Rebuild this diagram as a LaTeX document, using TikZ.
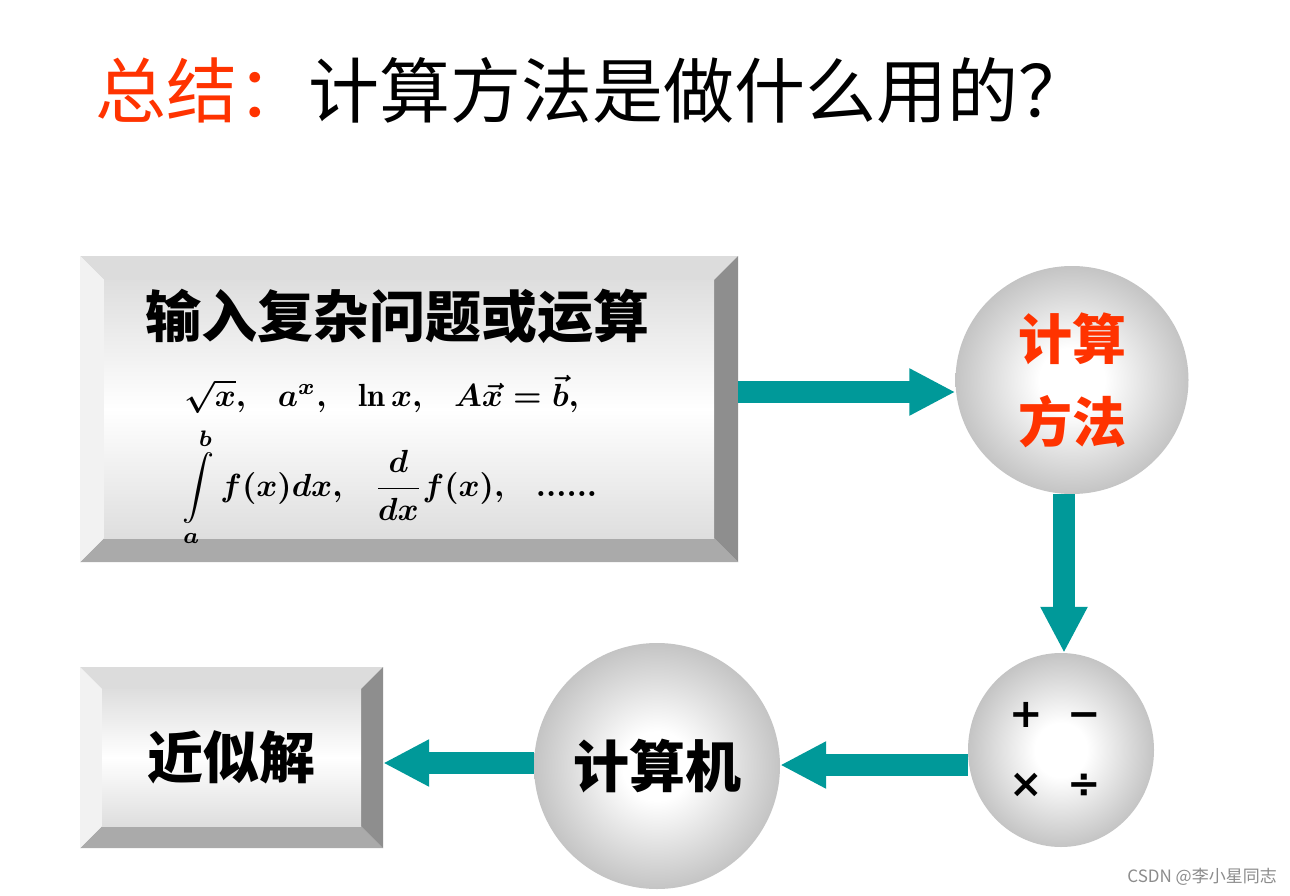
\documentclass[tikz,border=0pt]{standalone}
\usepackage{amsmath}
\usepackage{graphicx}
\usepackage{fontspec}
\newfontfamily\cjk{Noto Sans CJK SC}
\newfontfamily\dejavu{DejaVu Sans}
\usetikzlibrary{shapes.geometric,arrows.meta,calc}
\definecolor{titlered}{RGB}{255,51,0}
\definecolor{arrteal}{RGB}{0,153,153}
\definecolor{balledge}{RGB}{196,196,196}
\definecolor{bevtop}{RGB}{220,220,220}
\definecolor{bevleft}{RGB}{242,242,242}
\definecolor{bevright}{RGB}{142,142,142}
\definecolor{bevbottom}{RGB}{170,170,170}
\definecolor{facegray}{RGB}{222,222,222}
\pgfdeclareradialshading{ballshade}{\pgfpoint{0bp}{0bp}}{color(0bp)=(white); color(7bp)=(white); color(25bp)=(balledge); color(50bp)=(balledge)}
\tikzset{
  bevelbox/.style={rectangle, inner sep=0pt, path picture={
    \fill[bevtop] (path picture bounding box.north west) -- (path picture bounding box.north east)
      -- ([xshift=-#1,yshift=-#1]path picture bounding box.north east) -- ([xshift=#1,yshift=-#1]path picture bounding box.north west) -- cycle;
    \fill[bevbottom] (path picture bounding box.south west) -- (path picture bounding box.south east)
      -- ([xshift=-#1,yshift=#1]path picture bounding box.south east) -- ([xshift=#1,yshift=#1]path picture bounding box.south west) -- cycle;
    \fill[bevleft] (path picture bounding box.north west) -- (path picture bounding box.south west)
      -- ([xshift=#1,yshift=#1]path picture bounding box.south west) -- ([xshift=#1,yshift=-#1]path picture bounding box.north west) -- cycle;
    \fill[bevright] (path picture bounding box.north east) -- (path picture bounding box.south east)
      -- ([xshift=-#1,yshift=#1]path picture bounding box.south east) -- ([xshift=-#1,yshift=-#1]path picture bounding box.north east) -- cycle;
    \shade[top color=facegray, bottom color=facegray, middle color=white]
      ([xshift=#1,yshift=-#1]path picture bounding box.north west) rectangle ([xshift=-#1,yshift=#1]path picture bounding box.south east);
  }},
  ball/.style={ellipse, inner sep=0pt, shade, shading=ballshade},
  fat/.style={draw=arrteal, line width=22pt, -{Triangle[length=46pt, width=44pt]}},
  bigcjk/.style={font=\cjk\bfseries\fontsize{56}{60}\selectfont},
  mathtxt/.style={inner sep=0pt},
}
\begin{document}
\begin{tikzpicture}[x=1pt,y=-1pt]
\fill[white] (0,0) rectangle (1290,896);
\useasboundingbox (0,0) rectangle (1290,896);

\node[anchor=west, inner sep=0pt, font=\cjk\fontsize{71}{71}\selectfont] (title) at (95,90)
  {\textcolor{titlered}{总结：}计算方法是做什么用的？};

\node[bevelbox=24pt, minimum width=658pt, minimum height=306pt] (box1) at (409,409) {};
\node[bigcjk, inner sep=0pt] (head) at (397,316) {输入复杂问题或运算};
\node[mathtxt, anchor=base west] (m1) at (184,406)
  {\scalebox{3.2}{\boldmath$\sqrt{x},\hspace{0.8em} a^{x},\hspace{0.8em} \ln x,\hspace{0.8em} A\vec{x}=\vec{b},$}};
\node[mathtxt, anchor=west] (m2) at (182,487)
  {\scalebox{3.2}{\boldmath$\displaystyle\int\limits_a^b f(x)dx,\hspace{0.8em} \frac{d}{dx}f(x),\hspace{0.8em} ......$}};

\node[ball, minimum width=233pt, minimum height=228pt, align=center, text=titlered,
  font=\cjk\bfseries\fontsize{54}{83}\selectfont] (c1) at (1072,380) {计算\\方法};

\node[ball, minimum width=186pt, minimum height=194pt, align=center,
  font=\dejavu\bfseries\fontsize{40}{70}\selectfont] (c2) at (1061,750)
  {+\hspace{24pt}−\kern12pt\\×\hspace{24pt}÷\kern12pt};

\node[ball, minimum width=246pt, minimum height=246pt, bigcjk] (c3) at (657,766) {计算机};

\node[bevelbox=22pt, minimum width=303pt, minimum height=181pt, bigcjk] (box2) at (231.5,757.5) {近似解};

\draw[fat] ([yshift=17pt]box1.east) -- ([yshift=-12pt]c1.west);
\draw[fat] ([xshift=-8pt]c1.south) -- ([xshift=3pt]c2.north);
\draw[fat] ([yshift=-15pt]c2.west) -- ([yshift=1pt]c3.east);
\draw[fat] ([yshift=3pt]c3.west) -- ([yshift=-5.5pt]box2.east);

\node[anchor=east, inner sep=0pt, font=\cjk\fontsize{17}{17}\selectfont, text=black!45] (wm) at (1277,877) {CSDN @李小星同志};
\end{tikzpicture}
\end{document}
